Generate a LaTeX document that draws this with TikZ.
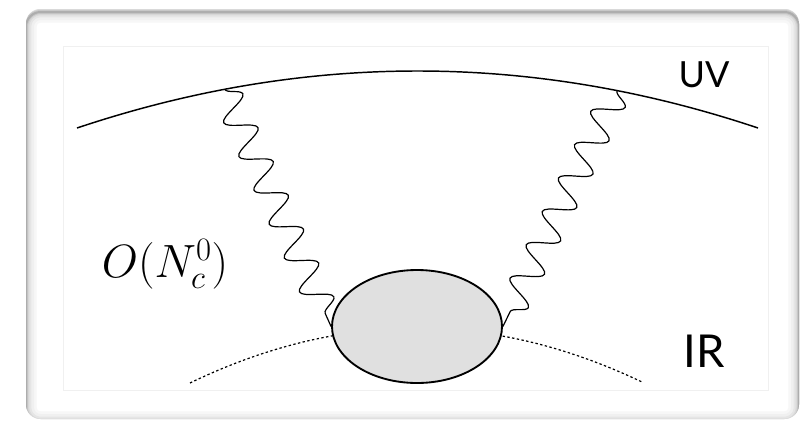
\RequirePackage{fix-cm}
\documentclass[tikz,border=0pt]{standalone}
\usepackage{fontspec}
\setsansfont{Lato}
\usetikzlibrary{shapes.geometric,decorations.pathmorphing,positioning}

\tikzset{
  photon/.style={decorate, decoration={snake, segment length=27.8pt, amplitude=11pt}, line width=0.9pt},
  blob/.style={ellipse, draw, line width=1.4pt, fill=black!12, minimum width=127.5pt, minimum height=84.75pt, inner sep=0pt},
  scalelabel/.style={font=\sffamily\fontsize{27}{30}\selectfont, inner sep=0pt},
}

\begin{document}
\begin{tikzpicture}[x=0.75pt, y=-0.75pt]
  % canvas (pixel units, y downwards)
  \useasboundingbox (0,0) rectangle (805,421);
  \fill[white] (0,0) rectangle (805,421);

  % frame with a soft inner shadow
  \begin{scope}
    \clip[rounded corners=11pt] (26,9) rectangle (799,419);
    \foreach \w/\c in {16pt/3, 12pt/6, 8pt/10, 5pt/15, 3pt/22, 1.5pt/32}
      \draw[black!\c, line width=\w, rounded corners=11pt] (26,12) rectangle (799,422);
  \end{scope}
  \draw[black!6, line width=0.75pt] (63,46) rectangle (768,390);

  % UV boundary
  \draw[line width=1.1pt] (77,128) .. controls (304,52) and (531,52) .. (758,128)
    coordinate[pos=0.217] (uvL) coordinate[pos=0.793] (uvR);

  % IR boundary
  \draw[line width=0.9pt, dash pattern=on 1.8pt off 1.8pt]
    (190,383) .. controls (340.7,310.2) and (491.3,310.2) .. (642,382);

  % blob and the two photon lines
  \node[blob] (blob) at (417,326.5) {};
  \draw[photon] (uvL) -- (blob.west);
  \draw[photon] (uvR) -- (blob.east);

  % labels
  \node[scalelabel] (uv) at (704,75) {UV};
  \node[scalelabel, font=\sffamily\fontsize{34}{38}\selectfont] (ir) at (704,351.5) {IR};
  \node[anchor=base, inner sep=0pt, font=\fontsize{35}{42}\selectfont] (order) at (165,277) {$O(N_c^0)$};
\end{tikzpicture}
\end{document}
